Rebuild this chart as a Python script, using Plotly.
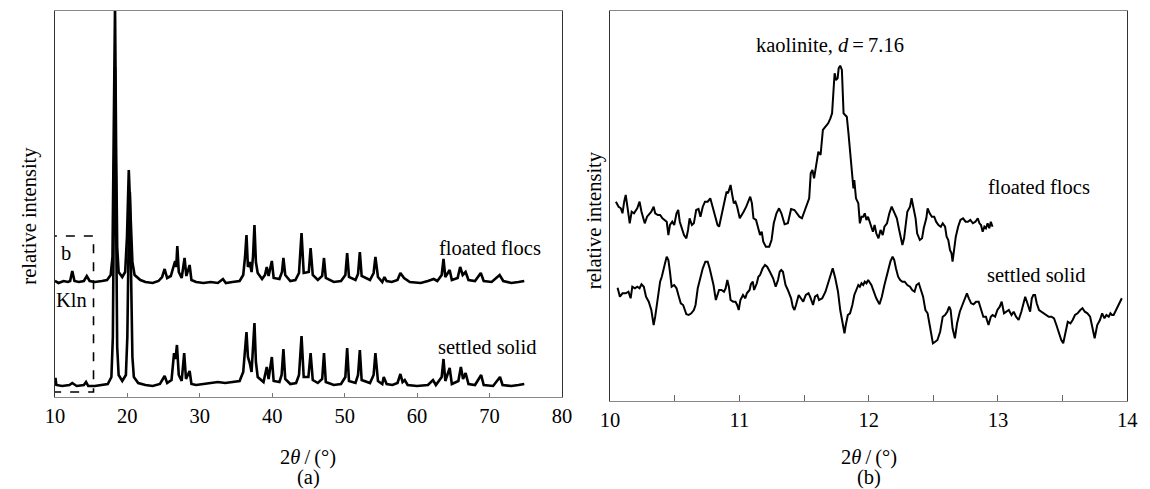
import plotly.graph_objects as go

# ---------------- Panel (a): full XRD patterns (2theta, relative intensity) ----------------
floated_a = [
    (10.0, 116), (10.5, 114), (11.2, 116), (11.8, 115), (12.1, 116), (12.4, 126), (12.7, 116),
    (13.3, 115), (14.0, 116), (14.4, 121), (14.8, 116), (15.5, 115), (16.5, 116), (17.2, 117),
    (17.7, 122), (17.95, 140), (18.1, 250), (18.3, 392), (18.45, 250), (18.6, 150), (18.8, 125),
    (19.3, 120), (19.7, 125), (19.95, 160), (20.2, 227), (20.45, 170), (20.7, 135), (21.0, 122),
    (21.8, 117), (22.5, 115), (23.5, 114), (24.3, 116), (24.8, 120), (25.15, 128), (25.5, 119),
    (26.0, 121), (26.4, 130), (26.6, 136), (26.75, 130), (26.9, 151), (27.1, 125), (27.5, 119),
    (27.9, 139), (28.15, 121), (28.6, 132), (28.85, 117), (29.5, 115), (30.5, 114), (31.5, 115),
    (32.5, 114), (33.2, 118), (33.6, 114), (34.5, 115), (35.5, 116), (36.0, 122), (36.25, 140),
    (36.45, 162), (36.65, 130), (36.9, 135), (37.15, 125), (37.35, 140), (37.55, 172), (37.75, 135),
    (38.0, 124), (38.6, 118), (39.0, 122), (39.25, 130), (39.5, 121), (39.95, 136), (40.2, 119),
    (41.0, 118), (41.35, 125), (41.55, 139), (41.8, 122), (42.5, 116), (43.2, 117), (43.7, 124),
    (44.05, 164), (44.35, 124), (45.05, 125), (45.3, 149), (45.6, 122), (46.3, 117), (46.9, 121),
    (47.15, 139), (47.4, 119), (48.5, 115), (49.5, 116), (50.1, 122), (50.35, 144), (50.6, 120),
    (51.5, 117), (51.85, 123), (52.1, 145), (52.35, 121), (53.5, 117), (54.0, 124), (54.25, 140),
    (54.6, 120), (55.2, 115), (55.5, 120), (55.8, 116), (56.5, 115), (57.3, 117), (57.7, 124),
    (58.2, 119), (59.0, 115), (60.5, 114), (61.5, 116), (62.3, 118), (62.8, 116), (63.4, 122),
    (63.65, 138), (63.9, 120), (64.5, 127), (64.8, 117), (65.6, 119), (65.95, 130), (66.3, 122),
    (66.7, 125), (67.1, 117), (68.0, 116), (68.8, 124), (69.2, 116), (70.3, 115), (71.4, 122),
    (71.9, 116), (73.0, 114), (74.0, 115), (74.8, 116),
]

settled_a = [
    (10.0, 14), (10.08, 19), (10.2, 12), (11.0, 11), (12.0, 12), (12.4, 14), (13.0, 11),
    (14.0, 12), (14.3, 15), (14.6, 11), (15.5, 11), (16.5, 12), (17.3, 13), (17.8, 20),
    (18.0, 60), (18.15, 200), (18.3, 330), (18.45, 180), (18.6, 50), (18.8, 22), (19.3, 16),
    (19.8, 22), (20.0, 60), (20.2, 170), (20.35, 205), (20.5, 130), (20.7, 40), (20.9, 20),
    (21.5, 14), (22.5, 12), (23.5, 11), (24.5, 13), (25.15, 21), (25.5, 14), (26.1, 17),
    (26.45, 44), (26.65, 38), (26.85, 52), (27.1, 22), (27.5, 16), (27.85, 44), (28.1, 18),
    (28.6, 26), (28.85, 13), (29.5, 12), (30.5, 13), (31.5, 14), (32.5, 15), (33.5, 14),
    (34.5, 15), (35.5, 16), (36.0, 25), (36.25, 45), (36.45, 65), (36.65, 40), (36.9, 34),
    (37.15, 25), (37.35, 45), (37.55, 74), (37.75, 35), (38.0, 20), (38.8, 15), (39.25, 30),
    (39.5, 18), (39.95, 40), (40.2, 16), (41.0, 15), (41.3, 22), (41.55, 48), (41.8, 18),
    (42.5, 13), (43.3, 14), (43.7, 22), (44.05, 61), (44.35, 20), (45.0, 20), (45.3, 44),
    (45.6, 17), (46.3, 14), (46.9, 18), (47.15, 44), (47.4, 15), (48.5, 12), (49.5, 13),
    (50.1, 20), (50.35, 49), (50.6, 16), (51.5, 14), (51.85, 22), (52.1, 47), (52.35, 17),
    (53.5, 14), (54.0, 22), (54.25, 44), (54.6, 16), (55.2, 13), (55.4, 20), (55.8, 13),
    (56.6, 12), (57.3, 14), (57.7, 23), (58.0, 15), (58.3, 17), (58.7, 12), (60.0, 11),
    (61.5, 12), (62.2, 17), (62.6, 12), (63.4, 20), (63.65, 38), (63.9, 16), (64.5, 29),
    (64.8, 13), (65.7, 16), (66.05, 30), (66.35, 18), (66.7, 24), (67.1, 13), (68.0, 12),
    (68.85, 22), (69.2, 12), (70.5, 11), (71.45, 20), (71.8, 12), (73.0, 11), (74.0, 12),
    (74.8, 13),
]

# ---------------- Panel (b): zoom 10-14 deg ----------------
floated_b = [
    (10.045,199.3),(10.066,194.3),(10.083,192.7),(10.096,187.7),(10.109,199.3),(10.121,206),
    (10.134,194.3),(10.152,177.7),(10.167,189.3),(10.185,187.7),(10.210,192.7),(10.228,199.3),
    (10.243,189.3),(10.268,177.7),(10.286,184.3),(10.304,186.7),(10.319,189.3),(10.337,194.3),
    (10.349,187.7),(10.370,186),(10.387,186),(10.405,182.7),(10.420,181),(10.438,179.3),
    (10.451,166),(10.463,176),(10.481,179.3),(10.496,176),(10.514,187.7),(10.527,191),
    (10.539,179.3),(10.557,172.7),(10.572,166),(10.590,162.7),(10.603,171),(10.615,182.7),
    (10.633,176),(10.648,177.7),(10.666,191),(10.684,192),(10.699,184.3),(10.717,194.3),
    (10.734,199.3),(10.755,199.3),(10.775,202.7),(10.793,194.3),(10.810,186),(10.831,176),
    (10.843,174.3),(10.861,186),(10.881,199.3),(10.901,209.3),(10.912,207.7),(10.932,216),
    (10.945,206),(10.957,197.7),(10.970,199.3),(10.983,194.3),(11.003,182.7),(11.021,186),
    (11.033,189.3),(11.053,194.3),(11.071,199.3),(11.084,204.3),(11.097,197.7),(11.109,182.7),
    (11.129,181),(11.147,172.7),(11.160,166),(11.173,169.3),(11.185,159.3),(11.205,154.3),
    (11.231,154.3),(11.249,161),(11.266,177.7),(11.287,187.7),(11.307,192.7),(11.325,187.7),
    (11.337,182.7),(11.350,176.7),(11.375,177.7),(11.388,186),(11.400,192),(11.426,191),
    (11.444,187.7),(11.464,184.3),(11.484,182.7),(11.509,191),(11.540,202.7),(11.552,227.7),
    (11.565,231),(11.578,222.7),(11.596,236),(11.611,249.3),(11.628,246),(11.646,271),
    (11.666,274.3),(11.687,277.7),(11.704,282.7),(11.717,287.7),(11.730,314.3),(11.737,327.7),
    (11.747,321),(11.760,322.7),(11.768,332.7),(11.780,335.3),(11.793,331),(11.806,287.7),
    (11.818,286),(11.831,284.3),(11.844,267.7),(11.856,249.3),(11.869,236),(11.882,212.7),
    (11.889,221),(11.902,202.7),(11.920,197.7),(11.932,177.7),(11.945,184.3),(11.958,184.3),
    (11.970,187.7),(11.983,181),(11.995,184.3),(12.008,179.3),(12.021,172.7),(12.033,169.3),
    (12.046,176),(12.059,167.7),(12.076,162.7),(12.092,171),(12.109,166),(12.122,174.3),
    (12.142,177.7),(12.160,187.7),(12.178,194.3),(12.198,189.3),(12.218,182.7),(12.236,171),
    (12.249,162.7),(12.261,156),(12.274,162.7),(12.287,177.7),(12.299,189.3),(12.320,194.3),
    (12.332,202.7),(12.345,194.3),(12.363,182.7),(12.375,167.7),(12.396,161),(12.413,162.7),
    (12.426,172.7),(12.446,182.7),(12.456,192.7),(12.472,187.7),(12.489,184.3),(12.507,184.3),
    (12.522,179.3),(12.540,176),(12.558,174.3),(12.573,177.7),(12.591,174.3),(12.603,164.3),
    (12.616,161),(12.629,151),(12.641,147.7),(12.649,139.3),(12.659,149.3),(12.674,164.3),
    (12.692,174.3),(12.710,181),(12.730,182.7),(12.750,179.3),(12.768,179.3),(12.786,181),
    (12.806,177.7),(12.826,179.3),(12.844,182.7),(12.857,177.7),(12.869,176),(12.882,169.3),
    (12.895,174.3),(12.907,172.7),(12.920,177.7),(12.933,172.7),(12.945,179.3),(12.958,174.3),
]

settled_b = [
    (10.058,113.3),(10.076,104.3),(10.096,107.7),(10.121,107.7),(10.142,109.3),(10.159,102.7),
    (10.172,114.3),(10.192,112.7),(10.210,114.3),(10.228,112.7),(10.243,116.7),(10.261,114.3),
    (10.278,104.3),(10.299,99.3),(10.319,91),(10.337,76),(10.349,84.3),(10.367,101),
    (10.387,119.3),(10.400,124.3),(10.413,132.7),(10.425,137.7),(10.438,144.3),(10.451,141),
    (10.463,129.3),(10.476,114.3),(10.496,116),(10.514,112.7),(10.532,104.3),(10.547,97.7),
    (10.565,96),(10.577,91),(10.590,86.7),(10.608,86),(10.628,87.7),(10.648,91),(10.661,96),
    (10.678,112.7),(10.699,124.3),(10.717,132.7),(10.737,139.3),(10.755,139.3),(10.770,132.7),
    (10.785,124.3),(10.800,116),(10.818,101),(10.831,107.7),(10.843,111),(10.861,111),
    (10.881,109.3),(10.894,112.7),(10.907,121),(10.919,114.3),(10.932,101),(10.952,99.3),
    (10.970,99.3),(10.983,96),(10.995,91),(11.008,101),(11.028,106),(11.046,102.7),
    (11.058,107.7),(11.079,111),(11.089,116.7),(11.104,119.3),(11.114,111),(11.135,117.7),
    (11.147,124.3),(11.160,126),(11.180,132.7),(11.198,136),(11.215,134.3),(11.236,129.3),
    (11.261,122.7),(11.281,114.3),(11.299,121),(11.312,129.3),(11.324,131),(11.337,129.3),
    (11.357,116),(11.375,111),(11.400,102.7),(11.413,94.3),(11.426,91),(11.438,96),
    (11.459,106),(11.476,102.7),(11.494,99.3),(11.514,106),(11.535,107.7),(11.547,104.3),
    (11.560,99.3),(11.570,96),(11.585,104.3),(11.603,106),(11.616,101),(11.641,102.7),
    (11.666,109.3),(11.687,117.7),(11.704,126),(11.722,132.7),(11.742,122.7),(11.763,109.3),
    (11.780,91),(11.798,77.7),(11.813,67.7),(11.823,76),(11.839,86),(11.856,87.7),
    (11.874,96),(11.889,106),(11.907,112.7),(11.920,116),(11.932,114.3),(11.945,117.7),
    (11.958,116),(11.970,119.3),(11.983,117.7),(11.996,121),(12.021,116),(12.041,109.3),
    (12.059,102.7),(12.084,96.7),(12.102,104.3),(12.122,116),(12.147,129.3),(12.168,139.3),
    (12.185,144.3),(12.198,141),(12.211,132.7),(12.228,124.3),(12.244,121),(12.261,119.3),
    (12.279,119.3),(12.299,116),(12.320,114.3),(12.337,111),(12.355,109.3),(12.370,116),
    (12.388,117.7),(12.401,112.7),(12.421,104.3),(12.439,91),(12.456,87.7),(12.472,76),
    (12.484,66),(12.497,57.7),(12.515,59.3),(12.532,61),(12.553,69.3),(12.573,84.3),
    (12.591,86),(12.608,89.3),(12.623,94.3),(12.634,91),(12.649,72.7),(12.667,62.7),
    (12.684,77.7),(12.705,89.3),(12.725,96),(12.743,102.7),(12.760,107.7),(12.775,102.7),
    (12.793,97.7),(12.811,96.7),(12.831,99.3),(12.851,99.3),(12.869,91),(12.887,84.3),
    (12.907,84.3),(12.927,76),(12.945,84.3),(12.958,86),(12.978,84.3),(12.996,91),
    (13.014,94.3),(13.029,99.3),(13.047,87.7),(13.064,89.3),(13.084,91),(13.105,86),
    (13.122,89.3),(13.140,84.3),(13.160,81),(13.181,89.3),(13.198,99.3),(13.211,104.3),
    (13.224,99.3),(13.236,94.3),(13.249,89.3),(13.262,102.7),(13.274,106),(13.287,106),
    (13.300,97.7),(13.318,91),(13.338,89.3),(13.358,87.7),(13.376,86),(13.393,84.3),
    (13.414,84.3),(13.434,82.7),(13.452,76),(13.470,67.7),(13.490,61),(13.505,57.7),
    (13.520,66),(13.540,79.3),(13.561,77.7),(13.578,81),(13.596,86),(13.616,87.7),
    (13.637,91),(13.654,92.7),(13.672,89.3),(13.692,87.7),(13.713,84.3),(13.730,72.7),
    (13.748,62.7),(13.768,76),(13.789,81),(13.806,87.7),(13.824,82.7),(13.839,86),
    (13.857,84.3),(13.870,87.7),(13.882,86),(13.895,86),(13.908,89.3),(13.925,94.3),
    (13.941,99.3),(13.958,102.7),
]

ticks_a = [10, 20, 30, 40, 50, 60, 70, 80]
ticks_b = [10, 11, 12, 13, 14]

FONT = "Liberation Serif, Times New Roman, serif"
BLACK = "#000000"


def xy(pairs):
    return [p[0] for p in pairs], [p[1] for p in pairs]


fig = go.Figure()
for pairs in [floated_a, settled_a]:
    x, y = xy(pairs)
    fig.add_trace(go.Scatter(x=x, y=y, mode="lines", line=dict(color=BLACK, width=2.6),
                             xaxis="x", yaxis="y", showlegend=False, hoverinfo="skip"))
for pairs in [floated_b, settled_b]:
    x, y = xy(pairs)
    fig.add_trace(go.Scatter(x=x, y=y, mode="lines", line=dict(color=BLACK, width=2),
                             xaxis="x2", yaxis="y2", showlegend=False, hoverinfo="skip"))

W, H = 1150, 489


def px_x(p):
    return p / W


def px_y(p):
    return (H - p) / H


axis_common = dict(showgrid=False, zeroline=False, mirror=True, showline=True,
                   tickfont=dict(family=FONT, size=20.5, color=BLACK))

fig.update_layout(
    width=W, height=H,
    margin=dict(l=0, r=0, t=0, b=0),
    paper_bgcolor="white", plot_bgcolor="white",
    font=dict(family=FONT, color=BLACK),
    xaxis=dict(domain=[px_x(45.7), px_x(561.7)], range=[10, 80], tickvals=ticks_a,
               ticks="inside", ticklen=4, tickcolor="#777777", linecolor="#888888",
               linewidth=1.3, anchor="y", **axis_common),
    yaxis=dict(domain=[px_y(397), px_y(11)], range=[0, 386], showticklabels=False,
               ticks="", linecolor="#333333", linewidth=1.3, anchor="x",
               showgrid=False, zeroline=False, mirror=True, showline=True),
    xaxis2=dict(domain=[px_x(610.7), px_x(1137)], range=[10, 14], tickvals=ticks_b,
                ticks="inside", ticklen=6, tickcolor="#666666", linecolor="#888888",
                linewidth=1.3, anchor="y2",
                minor=dict(dtick=0.5, ticks="inside", ticklen=6, tickcolor="#666666"),
                **axis_common),
    yaxis2=dict(domain=[px_y(401), px_y(11)], range=[0, 390], showticklabels=False,
                ticks="", linecolor="#333333", linewidth=1.3, anchor="x2",
                showgrid=False, zeroline=False, mirror=True, showline=True),
)

# dashed box marking the region shown in (b)
fig.add_shape(type="rect", xref="x", yref="y", x0=9.62, x1=15.33, y0=5, y1=161,
              line=dict(color=BLACK, width=1.6, dash="dash"), fillcolor="rgba(0,0,0,0)")

tf = dict(family=FONT, size=20.5, color=BLACK)


def note(x, y, text, xref, yref, angle=0):
    return dict(x=x, y=y, xref=xref, yref=yref, text=text, showarrow=False, font=tf,
                xanchor="center", yanchor="middle", textangle=angle)


ann = [
    note(11.5, 144, "b", "x", "y"),
    note(12.35, 97, "Kln", "x", "y"),
    note(70.1, 149, "floated flocs", "x", "y"),
    note(69.7, 50, "settled solid", "x", "y"),
    note(11.70, 356, "kaolinite, <i>d</i>\u2009=\u20097.16", "x2", "y2"),
    note(13.32, 214, "floated flocs", "x2", "y2"),
    note(13.30, 126, "settled solid", "x2", "y2"),
    note(px_x(303.7), px_y(457), "2<i>θ</i>\u2009/\u2009(°)", "paper", "paper"),
    note(px_x(874), px_y(457), "2<i>θ</i>\u2009/\u2009(°)", "paper", "paper"),
    note(px_x(303.7), px_y(477), "(a)", "paper", "paper"),
    note(px_x(874), px_y(477), "(b)", "paper", "paper"),
    note(px_x(19), px_y(216), "relative intensity", "paper", "paper", -90),
    note(px_x(594.5), px_y(220), "relative intensity", "paper", "paper", -90),
]
fig.update_layout(annotations=ann)

fig.write_html("out.html", config={"displayModeBar": False},
               post_script="document.body.style.margin='0';document.body.style.overflow='hidden';")
